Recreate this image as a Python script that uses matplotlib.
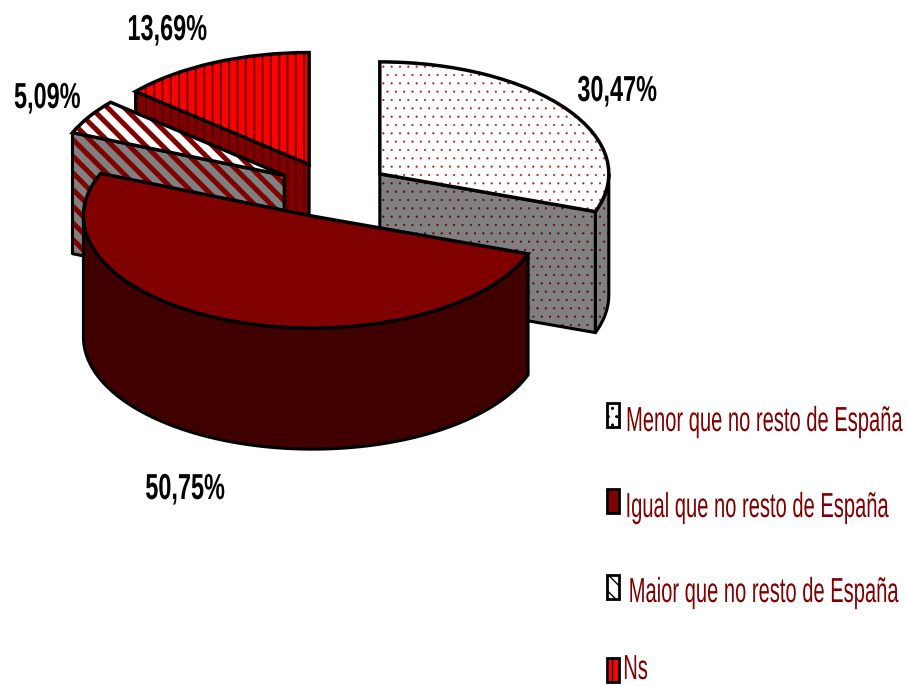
import matplotlib
matplotlib.use("Agg")
import matplotlib.pyplot as plt
from matplotlib.patches import Polygon, Rectangle
from matplotlib.patheffects import AbstractPathEffect
from matplotlib.transforms import Affine2D
import numpy as np

# shares of the pie, clockwise from 12 o'clock
categories = ["Menor que no resto de España", "Igual que no resto de España",
              "Maior que no resto de España", "Ns"]
values = [30.47, 50.75, 5.09, 13.69]
pct_labels = ["30,47%", "50,75%", "5,09%", "13,69%"]

W, H = 906, 686
FONT = "Liberation Sans"

# pixel geometry of the squashed pie
cx, cy = 333, 190
rx, ry = 229, 112
depth = 121 / ry

# style per slice
top_color = ["white", "#800000", "white", "#ff0000"]
hatches = ["..", None, "\\\\", "||"]
hatch_color = ["#a02020", "#800000", "#800000", "#800000"]
hatch_lw = [0.3, 1.0, 3.6, 1.6]
wall_color = ["#808080", "#400000", "#808080", "#800000"]
wall_hatch_color = ["#600000", "#400000", "#800000", "#600000"]
order = [3, 4, 2, 1]


class Squeeze(AbstractPathEffect):
    """narrows a text around a fixed x, there is no condensed font here"""
    def __init__(self, x0, sx):
        super().__init__()
        self.x0, self.sx = x0, sx

    def draw_path(self, renderer, gc, tpath, affine, rgbFace=None):
        squeeze = Affine2D().translate(-self.x0, 0).scale(self.sx, 1).translate(self.x0, 0)
        renderer.draw_path(gc, tpath, affine + squeeze, rgbFace)


fig = plt.figure(figsize=(W / 100, H / 100), dpi=100)
ax = fig.add_axes([0, 0, 1, 1])

explode = [0.25] * len(values)
wedges, _ = ax.pie(values, startangle=90, counterclock=False, explode=explode,
                   wedgeprops=dict(linewidth=0))
outlines, _ = ax.pie(values, startangle=90, counterclock=False, explode=explode,
                     wedgeprops=dict(fill=False, edgecolor="black", linewidth=2.5))
ax.set_aspect("auto")
ax.set_xlim(-cx / rx, (W - cx) / rx)
ax.set_ylim(-(H - cy) / ry, cy / ry)
ax.axis("off")


def add_wall(points, i, z):
    """one side face: hatched fill, then a black outline on top"""
    points = np.array(points)
    ax.add_patch(Polygon(points, facecolor=wall_color[i], edgecolor=wall_hatch_color[i],
                         hatch=hatches[i], linewidth=0, zorder=z))
    ax.patches[-1]._hatch_linewidth = hatch_lw[i]
    ax.add_patch(Polygon(points, fill=False, edgecolor="black", linewidth=2.2, zorder=z + 0.1,
                         joinstyle="round"))


def rim(w, a):
    return w.center[0] + np.cos(np.radians(a)), w.center[1] + np.sin(np.radians(a))


for i, (w, o) in enumerate(zip(wedges, outlines)):
    z = order[i] * 10
    c = np.array(w.center)
    drop = np.array([0, depth])
    # cut face which looks towards the viewer
    for a, visible in ((w.theta1, np.cos(np.radians(w.theta1)) > 1e-6),
                       (w.theta2, np.cos(np.radians(w.theta2)) < -1e-6)):
        if visible:
            p = np.array(rim(w, a))
            add_wall([c, p, p - drop, c - drop], i, z)
    # outer rim, front half only
    a0, a1 = max(w.theta1, -180), min(w.theta2, 0)
    if a1 > a0:
        t = np.linspace(a0, a1, 80)
        front = np.array([rim(w, a) for a in t])
        add_wall(np.vstack([front, front[::-1] - drop]), i, z + 1)
    w.set_facecolor(top_color[i])
    w.set_edgecolor(hatch_color[i] if hatches[i] else top_color[i])
    w.set_hatch(hatches[i])
    w._hatch_linewidth = hatch_lw[i]
    w.set_zorder(z + 2)
    o.set_zorder(z + 3)


def squeezed_text(x, y, s, ha, sx, **kw):
    fig.text(x / W, 1 - y / H, s, ha=ha, va="baseline", family=FONT,
             path_effects=[Squeeze(x, sx)], **kw)


# percentages, anchored on the side of the text which stays inside the picture
label_pos = [(657, 101, "right"), (225, 499, "right"), (14, 108, "left"), (207, 40, "right")]
for s, (x, y, ha) in zip(pct_labels, label_pos):
    squeezed_text(x, y, s, ha, 0.65, color="black", fontsize=26, fontweight="bold")

# legend, by hand because of the squeezed labels
swatch_top = [403, 489, 575, 658]
text_right = [903, 889, 899, 648]
text_base = [431, 517, 602, 679]
for i, name in enumerate(categories):
    fig.add_artist(Rectangle((607 / W, 1 - (swatch_top[i] + 24) / H), 12 / W, 24 / H,
                             transform=fig.transFigure, facecolor=top_color[i],
                             edgecolor="black", linewidth=2, hatch=hatches[i]))
    squeezed_text(text_right[i], text_base[i], name, "right", 0.58, color="#800000", fontsize=25)

fig.savefig("out.png", dpi=100)
